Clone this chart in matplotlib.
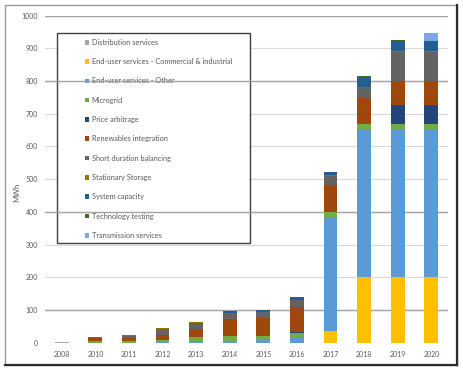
import matplotlib.pyplot as plt
from matplotlib.patches import Patch, Rectangle
from matplotlib.lines import Line2D

plt.rcParams['font.family'] = ['Lato', 'DejaVu Sans']

# #### Data (MWh per year and application)
years = ['2008', '2010', '2011', '2012', '2013', '2014', '2015', '2016', '2017', '2018', '2019', '2020']

distribution = [2, 0, 0, 0, 0, 0, 0, 0, 0, 0, 0, 0]
enduser_ci = [0, 0, 0, 0, 0, 0, 0, 0, 37, 200, 200, 200]
enduser_other = [0, 0, 0, 1, 2, 2, 8, 14, 345, 450, 450, 450]
microgrid = [1, 4, 5, 7, 15, 18, 13, 15, 17, 19, 19, 19]
price_arbitrage = [0, 0, 0, 0, 0, 0, 0, 4, 0, 0, 57, 57]
renewables = [0, 9, 10, 15, 24, 51, 53, 75, 83, 78, 74, 74]
short_balancing = [0, 3, 5, 19, 20, 19, 20, 23, 29, 34, 88, 88]
stationary = [0, 0, 2, 2, 3, 1, 1, 1, 2, 2, 3, 3]
system_capacity = [0, 0, 0, 2, 0, 6, 5, 7, 8, 30, 31, 31]
tech_testing = [0, 0, 0, 0, 0, 0, 0, 1, 1, 3, 4, 2]
transmission = [0, 0, 0, 0, 0, 0, 0, 0, 0, 0, 0, 24]

series = [
    ('Distribution services', distribution, '#a5a5a5'),
    ('End-user services - Commercial & industrial', enduser_ci, '#ffc000'),
    ('End-user services - Other', enduser_other, '#5b9bd5'),
    ('Microgrid', microgrid, '#70ad47'),
    ('Price arbitrage', price_arbitrage, '#264478'),
    ('Renewables integration', renewables, '#9e480e'),
    ('Short duration balancing', short_balancing, '#636363'),
    ('Stationary Storage', stationary, '#997300'),
    ('System capacity', system_capacity, '#255e91'),
    ('Technology testing', tech_testing, '#43682b'),
    ('Transmission services', transmission, '#7fa6e0'),
]

fig = plt.figure(figsize=(4.63, 3.71), dpi=100)
ax = fig.add_axes([0.097, 0.0763, 0.871, 0.8815])

# Stacked bars
bottom = [0] * len(years)
for label, values, color in series:
    ax.bar(years, values, 0.41, bottom=bottom, color=color, label=label, zorder=10)
    bottom = [b + v for b, v in zip(bottom, values)]

ax.set_xlim(-0.5, len(years) - 0.5)
ax.set_ylim(0, 1000)
ax.set_yticks(range(0, 1001, 100))

# Gridlines: light ones behind, a few darker ones as in the scan
ax.yaxis.grid(True, color='#d9d9d9', linewidth=0.8, zorder=0)
ax.set_axisbelow(True)
for v in [1000, 800, 400, 100]:
    ax.axhline(v, color='#a3a3a3', linewidth=1.0, zorder=6)

for s in ax.spines.values():
    s.set_visible(False)
ax.tick_params(axis='both', length=0, colors='#595959', labelsize=5)
ax.tick_params(axis='x', pad=6)
ax.tick_params(axis='y', pad=5)

ax.set_ylabel('MWh', fontsize=5.5, color='#595959')
ax.yaxis.set_label_coords(-0.062, 0.46)

# Legend box with its own frame
ax.add_patch(Rectangle((0.0298, 0.305), 0.479, 0.643, transform=ax.transAxes,
                       facecolor='white', edgecolor='#404040', linewidth=1.0, zorder=4))
handles = [Patch(facecolor=c, edgecolor='none') for _, _, c in series]
labels = [l for l, _, _ in series]
leg = ax.legend(handles, labels, loc='upper left', bbox_to_anchor=(0.0993, 0.929),
                frameon=False, fontsize=5.3, handlelength=0.6, handleheight=0.6,
                handletextpad=0.3, labelspacing=1.67, borderpad=0, borderaxespad=0)
for t in leg.get_texts():
    t.set_color('#595959')

# Outer frame around the whole chart
fig.patches.append(Rectangle((0.0108, 0.0162), 0.976, 0.970, transform=fig.transFigure,
                             facecolor='none', edgecolor='#9a9a9a', linewidth=1.0))
fig.lines.append(Line2D([0.9868, 0.9868], [0.0162, 0.9862], transform=fig.transFigure,
                        color='#2b2b2b', linewidth=1.6))
fig.lines.append(Line2D([0.0108, 0.9868], [0.0162, 0.0162], transform=fig.transFigure,
                        color='#2b2b2b', linewidth=1.6))

plt.savefig('out.png', dpi=100)
